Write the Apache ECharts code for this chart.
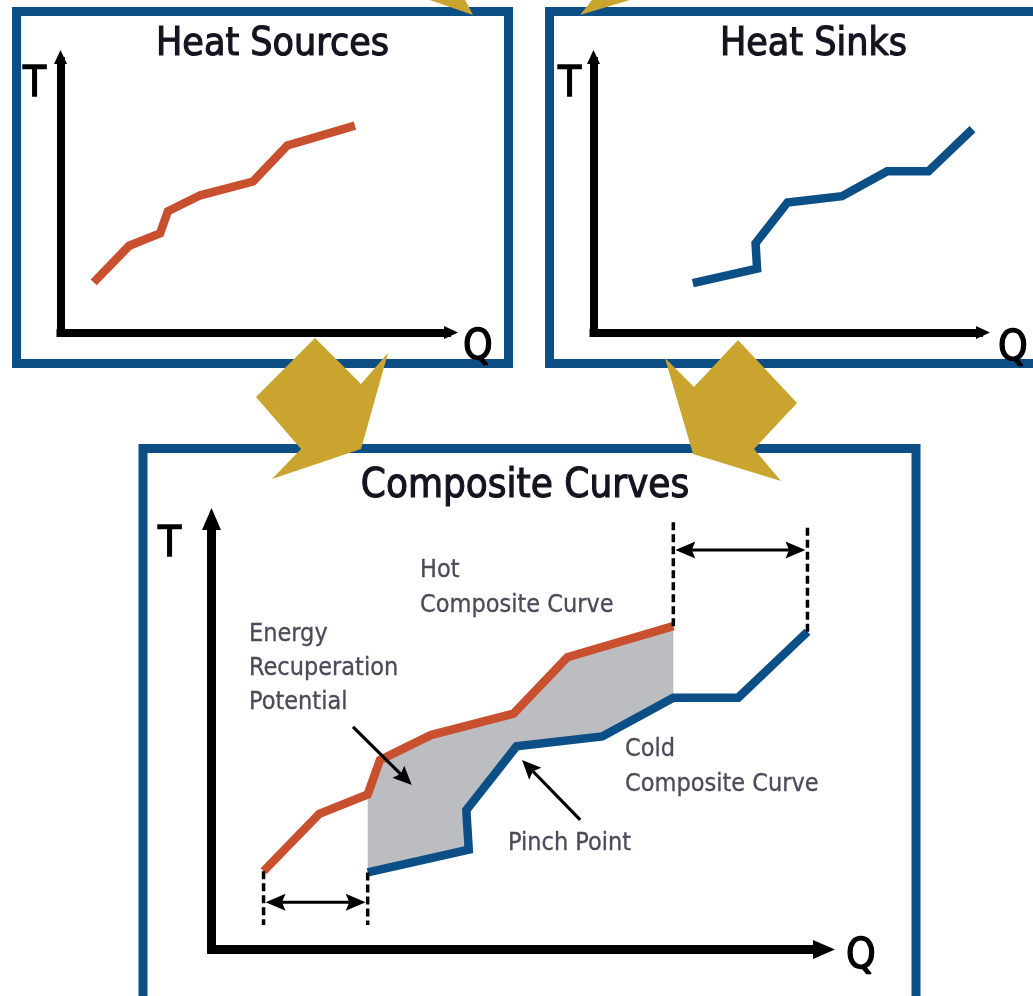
<!DOCTYPE html>
<html><head><meta charset="utf-8">
<script src="https://cdn.jsdelivr.net/npm/echarts@6/dist/echarts.min.js"></script>
<style>html,body{margin:0;padding:0;background:#fff}#c{width:1033px;height:996px}</style>
</head><body><div id="c"></div>
<script>
// ---- data (arbitrary Q / T units, 0..100) ----
const hotQ  = [8.5, 17.6, 25.5, 27.5, 35.8, 49.3, 58.1, 75.4];
const hotT  = [18.2, 31.5, 36.0, 44.0, 49.8, 54.8, 67.9, 75.1];
const coldQ = [25.5, 42.0, 41.6, 49.8, 63.8, 75.4, 86.0, 97.3];
const coldT = [17.9, 23.2, 32.4, 47.2, 49.5, 58.5, 58.5, 73.8];
const panelTitles = ['Heat Sources', 'Heat Sinks', 'Composite Curves'];
const axisNames = ['Q', 'T'];
const hotLabel = ['Hot', 'Composite Curve'];
const coldLabel = ['Cold', 'Composite Curve'];
const energyLabel = ['Energy', 'Recuperation', 'Potential'];
const pinchLabel = 'Pinch Point';
// guide levels (T) in the composite panel
const guideLowT = 5.7;
const guideHighT = [99.3, 98.1];
const spanArrowT = [11.0, 92.8];
// pointer arrows [fromQ, fromT, toQ, toT]
const energyPointer = [23.1, 51.7, 32.7, 38.2];
const pinchPointer = [60.2, 30.1, 50.7, 44.0];

const FONT = "'DejaVu Sans Condensed', 'Liberation Sans Narrow', 'DejaVu Sans', sans-serif";
const RED = '#c9502f', BLUE = '#0b4f86', FRAME = '#0d4e85', GOLD = '#c9a42e', GREY = '#bcbdc1';
const LABEL = '#4a4a58', INK = '#141420';

const zip = (a, b) => a.map((v, i) => [v, b[i]]);

function head(tip, from, L, W) {
  const dx = tip[0] - from[0], dy = tip[1] - from[1];
  const len = Math.hypot(dx, dy), ux = dx / len, uy = dy / len, nx = -uy, ny = ux;
  const bx = tip[0] - ux * L, by = tip[1] - uy * L;
  const notch = [tip[0] - ux * L * 0.82, tip[1] - uy * L * 0.82];
  return {
    el: { type: 'polygon', shape: { points: [tip, [bx + nx * W / 2, by + ny * W / 2], notch, [bx - nx * W / 2, by - ny * W / 2]] }, style: { fill: '#000' } },
    notch
  };
}

const chart = echarts.init(document.getElementById('c'), null, { renderer: 'canvas' });

// grids: [axisX, endX, axisY, endY, cap]
const frames = [
  [60.5, 451, 332.5, 57, 4],
  [593.5, 983, 332.5, 57, 4],
  [211.5, 824, 949.5, 519, 4.5]
];
const grid = frames.map(f => ({ left: f[0] - f[4], top: f[3], width: f[1] - f[0] + f[4], height: f[2] - f[3] + f[4], containLabel: false }));
const small = [13, 14], big = [19, 22];
const qNameCfg = [[12, 31], [15, 33], [22, 15]];
const tNameCfg = [[-7, 14.5], [-7, 12.5], [-5, 30.5]];
const nameStyle = { color: '#000', fontSize: 42, fontFamily: FONT, textBorderColor: '#000', textBorderWidth: 1.3 };
const xAxis = frames.map((f, i) => ({
  type: 'value', gridIndex: i, min: -f[4] * 100 / (f[1] - f[0]), max: 100,
  axisLine: { onZero: true, lineStyle: { color: '#000', width: i === 2 ? 9 : 8, cap: 'butt' }, symbol: ['none', 'triangle'], symbolSize: i === 2 ? big : small },
  axisTick: { show: false }, axisLabel: { show: false }, splitLine: { show: false },
  name: axisNames[0], nameLocation: 'end', nameGap: qNameCfg[i][0],
  nameTextStyle: Object.assign({ align: 'left', verticalAlign: 'top', lineHeight: qNameCfg[i][1] }, nameStyle)
}));
const yAxis = frames.map((f, i) => ({
  type: 'value', gridIndex: i, min: -f[4] * 100 / (f[2] - f[3]), max: 100,
  axisLine: { onZero: true, lineStyle: { color: '#000', width: i === 2 ? 9 : 8, cap: 'butt' }, symbol: ['none', 'triangle'], symbolSize: i === 2 ? big : small },
  axisTick: { show: false }, axisLabel: { show: false }, splitLine: { show: false },
  name: axisNames[1], nameLocation: 'end', nameGap: tNameCfg[i][0],
  nameTextStyle: Object.assign({ align: 'right', verticalAlign: 'top', padding: [0, tNameCfg[i][1], 0, 0] }, nameStyle)
}));

const curve = (name, q, t, gi, color) => ({
  type: 'line', name, xAxisIndex: gi, yAxisIndex: gi, data: zip(q, t), symbol: 'none', clip: false, z: 5,
  lineStyle: { color, width: 8.5, join: 'miter', cap: 'butt' }, silent: true
});

const series = [
  curve('hot', hotQ, hotT, 0, RED),
  curve('cold', coldQ, coldT, 1, BLUE),
  {
    type: 'custom', name: 'recovery', xAxisIndex: 2, yAxisIndex: 2, data: [[0, 0]], clip: false, silent: true, z: 3,
    renderItem: (p, api) => {
      const lo = coldQ[0], hi = hotQ[hotQ.length - 1];
      const top = zip(hotQ, hotT).filter(d => d[0] >= lo && d[0] <= hi);
      const bot = zip(coldQ, coldT).filter(d => d[0] >= lo && d[0] <= hi).reverse();
      return { type: 'polygon', shape: { points: top.concat(bot).map(d => api.coord(d)) }, style: { fill: GREY } };
    }
  },
  curve('hotComposite', hotQ, hotT, 2, RED),
  curve('coldComposite', coldQ, coldT, 2, BLUE),
  {
    type: 'custom', name: 'guides', xAxisIndex: 2, yAxisIndex: 2, data: [[0, 0]], clip: false, silent: true, z: 6,
    renderItem: (p, api) => {
      const ch = [];
      const dash = (a, b) => ch.push({ type: 'line', shape: { x1: a[0], y1: a[1], x2: b[0], y2: b[1] }, style: { stroke: '#000', lineWidth: 3.5, lineDash: [8, 4] } });
      const n = hotQ.length - 1;
      dash(api.coord([hotQ[0], hotT[0]]), api.coord([hotQ[0], guideLowT]));
      dash(api.coord([coldQ[0], coldT[0]]), api.coord([coldQ[0], guideLowT]));
      dash(api.coord([hotQ[n], hotT[n]]), api.coord([hotQ[n], guideHighT[0]]));
      dash(api.coord([coldQ[n], coldT[n]]), api.coord([coldQ[n], guideHighT[1]]));
      const dbl = (q1, q2, t) => {
        const a = api.coord([q1, t]), b = api.coord([q2, t]);
        a[0] += 2; b[0] -= 2;
        const h1 = head(a, b, 20, 17), h2 = head(b, a, 20, 17);
        ch.push({ type: 'line', shape: { x1: h1.notch[0], y1: h1.notch[1], x2: h2.notch[0], y2: h2.notch[1] }, style: { stroke: '#000', lineWidth: 3 } });
        ch.push(h1.el, h2.el);
      };
      dbl(hotQ[0], coldQ[0], spanArrowT[0]);
      dbl(hotQ[n], coldQ[n], spanArrowT[1]);
      [energyPointer, pinchPointer].forEach(ptr => {
        const a = api.coord([ptr[0], ptr[1]]), b = api.coord([ptr[2], ptr[3]]);
        const h = head(b, a, 19, 17);
        ch.push({ type: 'line', shape: { x1: a[0], y1: a[1], x2: h.notch[0], y2: h.notch[1] }, style: { stroke: '#000', lineWidth: 3.2 } });
        ch.push(h.el);
      });
      return { type: 'group', children: ch };
    }
  }
];

const txt = (text, x, y, size, color, align, sw) => ({
  type: 'text', x, y, z: 20, silent: true,
  style: { text, fontSize: size, fontFamily: FONT, fill: color, align, verticalAlign: 'middle',
    stroke: sw ? color : null, lineWidth: sw || 0 }
});

const graphic = [
  { type: 'rect', z: 0, shape: { x: 16.5, y: 11.5, width: 492, height: 352 }, style: { fill: 'none', stroke: FRAME, lineWidth: 9 } },
  { type: 'rect', z: 0, shape: { x: 549.5, y: 11.5, width: 520, height: 352 }, style: { fill: 'none', stroke: FRAME, lineWidth: 9 } },
  { type: 'rect', z: 0, shape: { x: 143, y: 448.5, width: 773, height: 600 }, style: { fill: 'none', stroke: FRAME, lineWidth: 9 } },
  { type: 'polygon', z: 1, shape: { points: [[315, 338], [361, 384], [388, 353], [361, 449], [272, 479], [301, 449], [256, 397]] }, style: { fill: GOLD } },
  { type: 'polygon', z: 1, shape: { points: [[665, 358], [694, 387], [738, 340], [797, 403], [754, 449], [781, 481], [693, 454]] }, style: { fill: GOLD } },
  { type: 'polygon', z: 1, shape: { points: [[401, -10], [473, 15], [460, -10]] }, style: { fill: GOLD } },
  { type: 'polygon', z: 1, shape: { points: [[600, -10], [580, 15], [663, -10]] }, style: { fill: GOLD } },
  txt(panelTitles[0], 272.5, 44.5, 39, INK, 'center', 1.1),
  txt(panelTitles[1], 813.5, 44.5, 39, INK, 'center', 1.1),
  txt(panelTitles[2], 525, 487, 40, INK, 'center', 1.1),
  txt(hotLabel[0], 420, 570, 25, LABEL, 'left', 0.3),
  txt(hotLabel[1], 420, 605, 25, LABEL, 'left', 0.3),
  txt(energyLabel[0], 249, 634, 25, LABEL, 'left', 0.3),
  txt(energyLabel[1], 249, 668, 25, LABEL, 'left', 0.3),
  txt(energyLabel[2], 249, 702, 25, LABEL, 'left', 0.3),
  txt(coldLabel[0], 625, 749, 25, LABEL, 'left', 0.3),
  txt(coldLabel[1], 625, 784, 25, LABEL, 'left', 0.3),
  txt(pinchLabel, 508, 843, 25, LABEL, 'left', 0.3)
];

chart.setOption({
  animation: false,
  backgroundColor: '#ffffff',
  grid, xAxis, yAxis, series, graphic
});
</script></body></html>
